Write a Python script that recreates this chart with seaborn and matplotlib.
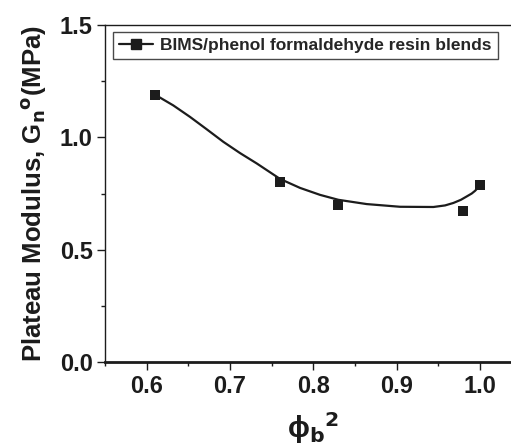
import matplotlib
matplotlib.use("Agg")
import matplotlib.pyplot as plt
from matplotlib.lines import Line2D
from matplotlib.ticker import MultipleLocator
import seaborn as sns
import pandas as pd

# measured points
phi_sq  = [0.61, 0.76, 0.83, 0.98, 1.00]
modulus = [1.19, 0.80, 0.70, 0.67, 0.79]

# smooth guide curve
curve_x = [0.61, 0.632, 0.652, 0.672, 0.692, 0.712, 0.732, 0.76, 0.784,
           0.808, 0.83, 0.864, 0.904, 0.944, 0.958, 0.968, 0.977, 0.984,
           0.990, 0.994, 0.997, 1.00]
curve_y = [1.19, 1.142, 1.091, 1.036, 0.98, 0.93, 0.884, 0.815, 0.775,
           0.744, 0.722, 0.703, 0.691, 0.690, 0.697, 0.708, 0.722, 0.737,
           0.750, 0.762, 0.774, 0.79]

legend_label = "BIMS/phenol formaldehyde resin blends"

sns.set_style("ticks")
plt.rcParams['font.family'] = ['Liberation Sans', 'DejaVu Sans']
plt.rcParams['font.weight'] = 'bold'
plt.rcParams['mathtext.default'] = 'regular'

pts = pd.DataFrame({'x': phi_sq, 'y': modulus})
crv = pd.DataFrame({'x': curve_x, 'y': curve_y})

fig = plt.figure(figsize=(5.11, 4.46), dpi=100)
ax = fig.add_axes([0.2055, 0.1883, 0.8155, 0.7556])

ink = '#1c1c1c'
sns.lineplot(data=crv, x='x', y='y', ax=ax, color=ink, linewidth=1.6,
             sort=False, legend=False)
sns.scatterplot(data=pts, x='x', y='y', ax=ax, marker='s', s=55,
                color=ink, edgecolor=ink, linewidth=0, legend=False, zorder=3)

ax.set_xlim(0.55, 1.05)
ax.set_ylim(0.0, 1.5)
ax.xaxis.set_major_locator(MultipleLocator(0.1))
ax.xaxis.set_minor_locator(MultipleLocator(0.05))
ax.yaxis.set_major_locator(MultipleLocator(0.5))
ax.yaxis.set_minor_locator(MultipleLocator(0.25))
ax.tick_params(which='major', direction='out', length=6, width=1,
               labelsize=17, color=ink, labelcolor=ink, pad=3)
ax.tick_params(which='minor', direction='out', length=3, width=1, color=ink)
for lab in ax.get_xticklabels() + ax.get_yticklabels():
    lab.set_fontweight('bold')

ax.spines['right'].set_visible(False)
ax.spines['left'].set_linewidth(1.0)
ax.spines['top'].set_linewidth(1.0)
ax.spines['bottom'].set_linewidth(2.0)
for s in ax.spines.values():
    s.set_color(ink)

ax.set_xlabel(r"ϕ$_\mathbf{b}$$^\mathbf{2}$", fontsize=21, fontweight='bold',
              color=ink, labelpad=9)
ax.set_ylabel(r"Plateau Modulus, G$_\mathbf{n}$$^\mathbf{o}$(MPa)", fontsize=18.5,
              fontweight='bold', color=ink, labelpad=8)

handle = Line2D([], [], color=ink, linewidth=1.6, marker='s', markersize=7,
                markerfacecolor=ink, markeredgecolor=ink)
leg = ax.legend([handle], [legend_label], loc='upper left',
                bbox_to_anchor=(0.018, 0.98), frameon=True, fancybox=False,
                prop={'weight': 'bold', 'size': 12.5}, handlelength=2.0,
                handletextpad=0.4, borderpad=0.35, borderaxespad=0)
leg.get_frame().set_edgecolor(ink)
leg.get_frame().set_linewidth(1.0)

fig.savefig("out.png", dpi=100)
